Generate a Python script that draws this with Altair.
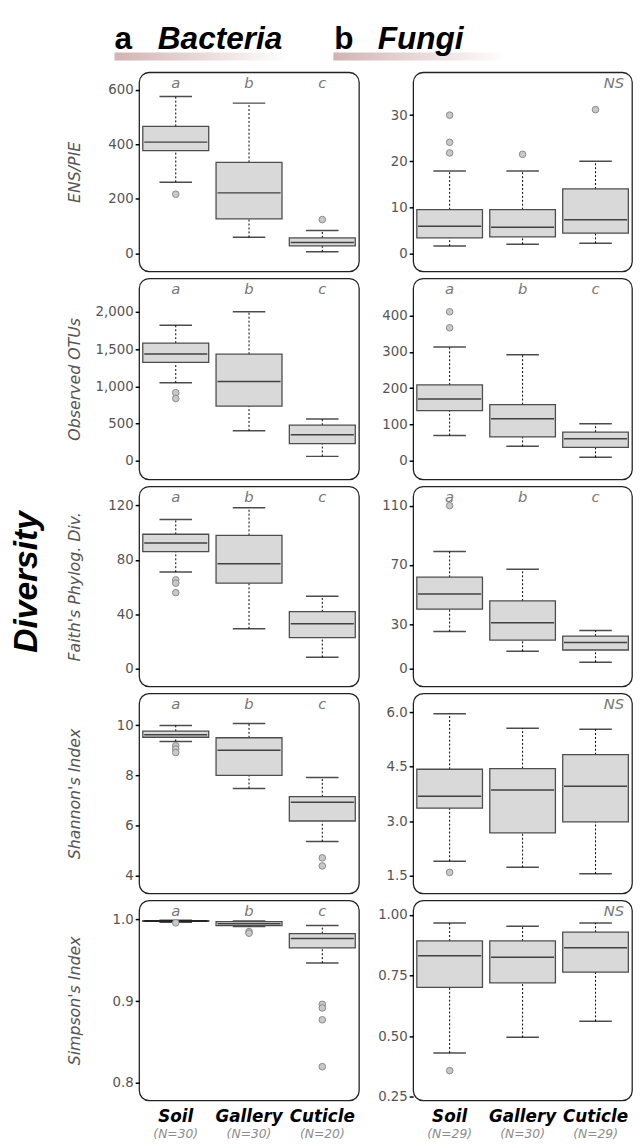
import altair as alt
import pandas as pd

groups = ["Soil", "Gallery", "Cuticle"]
bac_n = ["(N=30)", "(N=30)", "(N=20)"]
fun_n = ["(N=29)", "(N=30)", "(N=29)"]
sig_letters = ["a", "b", "c"]

# five-number summaries per group: (lower whisker, Q1, median, Q3, upper whisker)
bac_ens_box = [(261, 377, 408, 466, 575), (59, 127, 222, 334, 551), (6, 28, 40, 57, 84)]
bac_ens_out = [[217], [], [124]]
fun_ens_box = [(1.6, 3.4, 5.9, 9.5, 17.9), (2.0, 3.6, 5.7, 9.5, 17.9), (2.2, 4.4, 7.3, 14.0, 20.0)]
fun_ens_out = [[30.0, 24.1, 21.8], [21.5], [31.2]]

bac_otu_box = [(1048, 1322, 1436, 1581, 1819), (405, 736, 1066, 1432, 2000), (62, 233, 352, 480, 564)]
bac_otu_out = [[916, 837], [], []]
fun_otu_box = [(70, 138, 170, 209, 313), (40, 66, 116, 155, 292), (10, 37, 61, 79, 102)]
fun_otu_out = [[410, 366], [], []]

bac_pd_box = [(71, 86, 92.3, 98.8, 109.6), (29.4, 62.9, 77.1, 98.0, 118.3), (8.4, 22.9, 33.0, 41.9, 53.3)]
bac_pd_out = [[65.3, 62.9, 55.9], [], []]
fun_pd_box = [(25.1, 40.1, 50.3, 61.7, 79.0), (11.8, 19.3, 31.0, 45.7, 67.0), (4.4, 12.6, 17.7, 22.0, 25.7)]
fun_pd_out = [[110], [], []]

bac_sh_box = [(9.35, 9.52, 9.62, 9.76, 9.99), (7.48, 8.0, 9.0, 9.5, 10.07), (5.36, 6.18, 6.93, 7.15, 7.91)]
bac_sh_out = [[9.18, 9.05, 8.91], [], [4.71, 4.39]]
fun_sh_box = [(1.9, 3.36, 3.69, 4.43, 5.96), (1.73, 2.68, 3.86, 4.45, 5.56), (1.55, 2.98, 3.96, 4.83, 5.53)]
fun_sh_out = [[1.59], [], []]

bac_si_box = [(0.9965, 0.9975, 0.998, 0.9985, 0.999), (0.9912, 0.9924, 0.9948, 0.9972, 0.998),
              (0.9466, 0.9651, 0.9767, 0.9827, 0.9924)]
bac_si_out = [[0.9958], [0.9851, 0.9831], [0.896, 0.8916, 0.8771, 0.8197]]
fun_si_box = [(0.431, 0.701, 0.831, 0.892, 0.966), (0.495, 0.719, 0.825, 0.892, 0.952),
              (0.561, 0.764, 0.864, 0.928, 0.966)]
fun_si_out = [[0.358], [], []]

LW, RW = 223, 222
HEIGHTS = [202, 204, 203, 203, 203]
GRAY = "#555555"


def panel(box, outs, domain, ticks, fmt, title, w, h, letters=None, ns=False, nlabels=None, extras=()):
    df = pd.DataFrame({
        "g": groups,
        "lo": [b[0] for b in box], "q1": [b[1] for b in box], "med": [b[2] for b in box],
        "q3": [b[3] for b in box], "hi": [b[4] for b in box],
    })
    od = pd.DataFrame([{"g": g, "v": v} for g, vs in zip(groups, outs) for v in vs])
    if nlabels is not None:
        xaxis = alt.Axis(title=None, labelAngle=0, ticks=False, domain=False, labelFont="DejaVu Sans",
                         labelFontSize=17, labelFontWeight="bold", labelFontStyle="italic",
                         labelColor="black", labelPadding=8)
    else:
        xaxis = None
    xs = alt.Scale(domain=groups, paddingInner=0.1, paddingOuter=0.05)
    X = alt.X("g:N", scale=xs, axis=xaxis, sort=groups)
    ys = alt.Scale(domain=domain, nice=False, zero=False)
    ax = dict(values=ticks, grid=False, domain=False, ticks=True, tickColor="black", tickSize=4,
              tickWidth=1.5, labelColor=GRAY, labelFont="DejaVu Sans", labelFontSize=13.5, labelPadding=2)
    if fmt:
        ax["format"] = fmt
    if title:
        ax.update(title=title, titleX=-57, titleY=h / 2, titleAlign="center", titleBaseline="bottom",
                  titleFont="DejaVu Sans", titleFontSize=16, titleFontStyle="italic",
                  titleFontWeight="normal", titleColor=GRAY)
    else:
        ax["title"] = None
    yax = alt.Axis(**ax)

    def Y(f):
        return alt.Y(f, scale=ys, axis=yax)

    base = alt.Chart(df)
    layers = [
        base.mark_rule(color="black", strokeWidth=1, strokeDash=[2, 2]).encode(x=X, y=Y("lo:Q"), y2="q1:Q"),
        base.mark_rule(color="black", strokeWidth=1, strokeDash=[2, 2]).encode(x=X, y=Y("q3:Q"), y2="hi:Q"),
        base.mark_tick(color="black", size=33, thickness=1.5).encode(x=X, y=Y("lo:Q")),
        base.mark_tick(color="black", size=33, thickness=1.5).encode(x=X, y=Y("hi:Q")),
        base.mark_bar(fill="#d9d9d9", stroke="#4d4d4d", strokeWidth=1.3).encode(x=X, y=Y("q1:Q"), y2="q3:Q"),
        base.mark_tick(color="black", size=64, thickness=1.5).encode(x=X, y=Y("med:Q")),
    ]
    if len(od):
        layers.append(alt.Chart(od).mark_point(filled=True, fill="#c8c8c8", stroke="#8a8a8a", strokeWidth=1,
                                               size=45, opacity=1).encode(x=X, y=Y("v:Q")))
    if letters:
        ld = pd.DataFrame({"g": groups, "l": letters})
        layers.append(alt.Chart(ld).mark_text(font="DejaVu Sans", fontSize=15, fontStyle="italic",
                                              color="#777777", baseline="alphabetic").encode(
            x=X, y=alt.value(16), text="l:N"))
    if ns:
        layers.append(alt.Chart(pd.DataFrame({"t": ["NS"]})).mark_text(
            font="DejaVu Sans", fontSize=15, fontStyle="italic", color="#777777", align="right",
            baseline="alphabetic").encode(x=alt.value(w - 8), y=alt.value(16), text="t:N"))
    if nlabels is not None:
        nd = pd.DataFrame({"g": groups, "n": nlabels})
        layers.append(alt.Chart(nd).mark_text(font="DejaVu Sans", fontSize=12.5, fontStyle="italic",
                                              color="#8c8c8c", baseline="alphabetic").encode(
            x=X, y=alt.value(h + 38), text="n:N"))
    layers.extend(extras)
    return alt.layer(*layers).properties(width=w, height=h)


def txt(s, x, y, size, style="normal", weight="bold", angle=0, align="left", baseline="alphabetic"):
    kw = dict(font="Liberation Sans", fontSize=size, fontWeight=weight, fontStyle=style, color="black",
              align=align, baseline=baseline)
    if angle:
        kw["angle"] = angle
    return alt.Chart(pd.DataFrame({"t": [s]})).mark_text(**kw).encode(
        x=alt.value(x), y=alt.value(y), text="t:N")


def grad(x1, x2, y1, y2):
    g = {"gradient": "linear", "x1": 0, "x2": 1, "y1": 0, "y2": 0,
         "stops": [{"offset": 0, "color": "#d3b3b3"}, {"offset": 1, "color": "#ffffff"}]}
    return alt.Chart(pd.DataFrame({"d": [0]})).mark_rect(color=g).encode(
        x=alt.value(x1), x2=alt.value(x2), y=alt.value(y1), y2=alt.value(y2))


bac_head = [grad(-25, 150, -20, -12), txt("a", -25, -24, 32), txt("Bacteria", 19, -24, 32, style="italic")]
fun_head = [grad(-81, 95, -20, -12), txt("b", -80, -24, 32), txt("Fungi", -36, -24, 32, style="italic")]
div_lab = [txt("Diversity", -114, 97, 34, style="italic", angle=270, align="center", baseline="middle")]

panels = [
    panel(bac_ens_box, bac_ens_out, [-66, 664], [0, 200, 400, 600], None, "ENS/PIE", LW, HEIGHTS[0],
          letters=sig_letters, extras=bac_head),
    panel(fun_ens_box, fun_ens_out, [-3.9, 39.3], [0, 10, 20, 30], None, None, RW, HEIGHTS[0],
          ns=True, extras=fun_head),
    panel(bac_otu_box, bac_otu_out, [-247, 2449], [0, 500, 1000, 1500, 2000], ",.0f", "Observed OTUs", LW,
          HEIGHTS[1], letters=sig_letters),
    panel(fun_otu_box, fun_otu_out, [-51, 502], [0, 100, 200, 300, 400], None, None, RW, HEIGHTS[1],
          letters=sig_letters),
    panel(bac_pd_box, bac_pd_out, [-13, 134], [0, 40, 80, 120], None, "Faith's Phylog.  Div.", LW,
          HEIGHTS[2], letters=sig_letters, extras=div_lab),
    panel(fun_pd_box, fun_pd_out, [-12, 123], [0, 30, 70, 110], None, None, RW, HEIGHTS[2],
          letters=sig_letters),
    panel(bac_sh_box, bac_sh_out, [3.29, 11.27], [4, 6, 8, 10], None, "Shannon's Index", LW, HEIGHTS[3],
          letters=sig_letters),
    panel(fun_sh_box, fun_sh_out, [1.01, 6.52], [1.5, 3.0, 4.5, 6.0], ".1f", None, RW, HEIGHTS[3], ns=True),
    panel(bac_si_box, bac_si_out, [0.7783, 1.0233], [0.8, 0.9, 1.0], ".1f", "Simpson's Index", LW,
          HEIGHTS[4], letters=sig_letters, nlabels=bac_n),
    panel(fun_si_box, fun_si_out, [0.235, 1.059], [0.25, 0.5, 0.75, 1.0], ".2f", None, RW, HEIGHTS[4],
          ns=True, nlabels=fun_n),
]

chart = alt.concat(*panels, columns=2, spacing={"row": 7, "column": 55}, bounds="flush").properties(
    padding={"left": 1, "top": 6, "right": 0, "bottom": 0}
).configure_view(stroke="#222222", strokeWidth=1.3, cornerRadius=10)

chart.save("out.html", embed_options={"renderer": "svg", "actions": False})
